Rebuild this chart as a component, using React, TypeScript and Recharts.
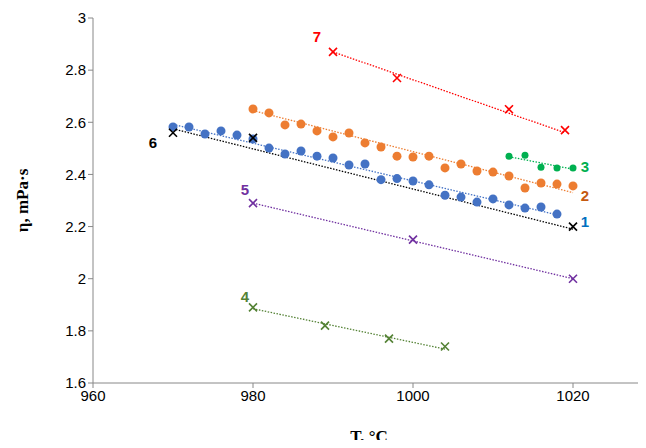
import React from 'react';
import { ScatterChart, Scatter, XAxis, YAxis, ReferenceDot } from 'recharts';

const blueX = [970, 972, 974, 976, 978, 980, 982, 984, 986, 988, 990, 992, 994, 996, 998, 1000, 1002, 1004, 1006, 1008, 1010, 1012, 1014, 1016, 1018];
const blueY = [2.582, 2.582, 2.555, 2.567, 2.551, 2.536, 2.501, 2.478, 2.49, 2.47, 2.463, 2.436, 2.44, 2.38, 2.384, 2.375, 2.36, 2.32, 2.313, 2.294, 2.306, 2.283, 2.271, 2.275, 2.248];
const orangeX = [980, 982, 984, 986, 988, 990, 992, 994, 996, 998, 1000, 1002, 1004, 1006, 1008, 1010, 1012, 1014, 1016, 1018, 1020];
const orangeY = [2.651, 2.636, 2.59, 2.593, 2.567, 2.544, 2.559, 2.521, 2.505, 2.47, 2.467, 2.47, 2.425, 2.44, 2.413, 2.409, 2.394, 2.348, 2.367, 2.363, 2.356];
const greenX = [1012, 1014, 1016, 1018, 1020];
const greenY = [2.47, 2.474, 2.428, 2.425, 2.425];
const blackX = [970, 980, 1020];
const blackY = [2.56, 2.54, 2.2];
const redX = [990, 998, 1012, 1019];
const redY = [2.87, 2.77, 2.65, 2.57];
const purpleX = [980, 1000, 1020];
const purpleY = [2.29, 2.15, 2.0];
const olivX = [980, 989, 997, 1004];
const olivY = [1.89, 1.82, 1.77, 1.74];

// trendline endpoints [x0, y0, x1, y1]
const trends: [string, number[]][] = [
  ['#4472C4', [970, 2.592, 1018, 2.245]],
  ['#ED7D31', [980, 2.645, 1020, 2.33]],
  ['#00B050', [1012, 2.468, 1020, 2.42]],
  ['#000000', [970, 2.575, 1020, 2.19]],
  ['#FF0000', [990, 2.87, 1019, 2.56]],
  ['#7030A0', [980, 2.29, 1020, 2.0]],
  ['#548235', [980, 1.885, 1004, 1.73]],
];

const labels = [
  { t: '1', x: 1021.5, y: 2.22, c: '#0070C0' },
  { t: '2', x: 1021.5, y: 2.32, c: '#C55A11' },
  { t: '3', x: 1021.5, y: 2.43, c: '#00B050' },
  { t: '4', x: 979, y: 1.93, c: '#548235' },
  { t: '5', x: 979, y: 2.34, c: '#7030A0' },
  { t: '6', x: 967.5, y: 2.52, c: '#000000' },
  { t: '7', x: 988, y: 2.93, c: '#FF0000' },
];

const pts = (xs: number[], ys: number[]) => xs.map((x, i) => ({ x, y: ys[i] }));

const Cross = (color: string) => (p: any) => (
  <path d={`M${p.cx - 4},${p.cy - 4}L${p.cx + 4},${p.cy + 4}M${p.cx - 4},${p.cy + 4}L${p.cx + 4},${p.cy - 4}`} stroke={color} strokeWidth={1.6} />
);
const Dot = (color: string, r: number) => (p: any) => <circle cx={p.cx} cy={p.cy} r={r} fill={color} />;
const None = () => <g />;

const tick = { fill: '#000', fontSize: 15, fontFamily: 'Liberation Sans' };

export default function App() {
  return (
    <div style={{ margin: -8 }}>
      <ScatterChart width={646} height={448} margin={{ top: 18, right: 1, bottom: 0, left: 8 }}>
        <XAxis type="number" dataKey="x" domain={[960, 1029]} ticks={[960, 980, 1000, 1020]} tick={tick}
          stroke="#888" tickSize={5} height={65}
          label={{ value: 'T, °C', position: 'insideBottom', offset: 6, style: { fontFamily: 'Liberation Serif', fontWeight: 'bold', fontSize: 17, fill: '#000' } }} />
        <YAxis type="number" dataKey="y" domain={[1.6, 3]} ticks={[1.6, 1.8, 2, 2.2, 2.4, 2.6, 2.8, 3]} tick={tick}
          stroke="#888" tickSize={5} width={85} tickFormatter={(v) => String(v)}
          label={{ value: 'η, mPa·s', angle: -90, position: 'insideLeft', offset: 14, style: { fontFamily: 'Liberation Serif', fontWeight: 'bold', fontSize: 17, fill: '#000', textAnchor: 'middle' } }} />
        {trends.map(([c, v], i) => (
          <Scatter key={'t' + i} data={[{ x: v[0], y: v[1] }, { x: v[2], y: v[3] }]} shape={None}
            line={{ stroke: c, strokeDasharray: '1.5 1.5', strokeWidth: 1.3 }} isAnimationActive={false} />
        ))}
        <Scatter data={pts(blueX, blueY)} shape={Dot('#4472C4', 4.5)} isAnimationActive={false} />
        <Scatter data={pts(orangeX, orangeY)} shape={Dot('#ED7D31', 4.5)} isAnimationActive={false} />
        <Scatter data={pts(greenX, greenY)} shape={Dot('#00B050', 3.5)} isAnimationActive={false} />
        <Scatter data={pts(blackX, blackY)} shape={Cross('#000')} isAnimationActive={false} />
        <Scatter data={pts(redX, redY)} shape={Cross('#FF0000')} isAnimationActive={false} />
        <Scatter data={pts(purpleX, purpleY)} shape={Cross('#7030A0')} isAnimationActive={false} />
        <Scatter data={pts(olivX, olivY)} shape={Cross('#548235')} isAnimationActive={false} />
        {labels.map((l) => (
          <ReferenceDot key={l.t} x={l.x} y={l.y} r={0} stroke="none"
            label={{ value: l.t, position: 'center', style: { fill: l.c, fontWeight: 'bold', fontSize: 15, fontFamily: 'Liberation Sans' } }} />
        ))}
      </ScatterChart>
    </div>
  );
}
